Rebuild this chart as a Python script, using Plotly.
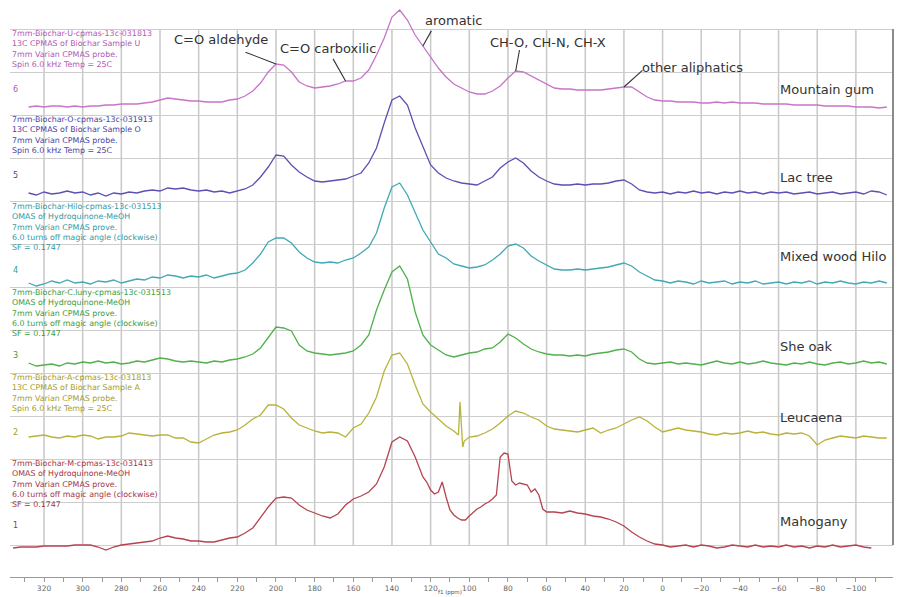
import plotly.graph_objects as go

# chemical shift (ppm) sampled every 4 ppm for the upper spectra
ppm = [328, 324, 320, 316, 312, 308, 304, 300, 296, 292, 288, 284, 280, 276, 272, 268,
       264, 260, 256, 252, 248, 244, 240, 236, 232, 228, 224, 220, 216, 212, 208, 204,
       200, 196, 192, 188, 184, 180, 176, 172, 168, 164, 160, 156, 152, 148, 144, 140,
       136, 132, 128, 124, 120, 116, 112, 108, 104, 100, 96, 92, 88, 84, 80, 76,
       72, 68, 64, 60, 56, 52, 48, 44, 40, 36, 32, 28, 24, 20, 16, 12,
       8, 4, 0, -4, -8, -12, -16, -20, -24, -28, -32, -36, -40, -44, -48, -52,
       -56, -60, -64, -68, -72, -76, -80, -84, -88, -92, -96, -100, -104, -108, -112, -116]

# intensities (a.u., relative to each spectrum's own baseline)
mountain_gum = [0, 1, 0, 1, 1, 0, 1, 0, 1, 1, 2, 2, 3, 3, 3, 4,
                5, 7, 9, 8, 7, 6, 6, 5, 5, 5, 7, 8, 11, 16, 24, 35,
                43, 42, 35, 25, 21, 19, 20, 21, 23, 26, 26, 29, 37, 52, 69, 90,
                97, 87, 72, 61, 49, 39, 30, 23, 19, 15, 13, 13, 16, 21, 29, 36,
                35, 31, 27, 23, 19, 18, 18, 17, 17, 17, 17, 18, 19, 20, 20, 15,
                10, 7, 6, 6, 5, 5, 5, 4, 4, 5, 4, 5, 4, 4, 4, 3,
                3, 3, 3, 2, 2, 2, 2, 1, 1, 1, 1, 0, 0, 0, -1, 0]

lac_tree = [0, -2, 1, -1, 0, 2, 0, 1, -2, 0, -3, 0, -1, 1, 0, 2,
            3, 2, 5, 4, 5, 3, 2, 3, 1, 2, 0, 2, 4, 8, 16, 26,
            38, 37, 28, 21, 16, 12, 11, 12, 13, 14, 17, 20, 30, 45, 70, 93,
            97, 88, 65, 46, 28, 20, 15, 12, 10, 9, 8, 12, 16, 25, 31, 35,
            30, 22, 16, 12, 9, 8, 8, 9, 8, 9, 9, 10, 12, 13, 9, 3,
            1, 0, 1, -1, 1, 0, 2, 0, 1, -1, 1, 0, 2, 0, 1, -1,
            1, 0, 1, -1, 0, 1, -1, 0, 1, -1, 0, 1, -1, 2, 1, -2]

mixed_wood_hilo = [0, -3, -1, 2, 0, 3, 0, 1, -1, 2, 1, 3, 0, 2, 4, 3,
                   6, 5, 8, 7, 5, 7, 6, 8, 5, 7, 9, 10, 13, 20, 29, 41,
                   45, 45, 40, 31, 25, 21, 20, 21, 20, 23, 25, 30, 36, 50, 75, 96,
                   100, 88, 71, 53, 41, 29, 25, 19, 17, 15, 16, 18, 23, 29, 37, 39,
                   35, 27, 22, 18, 14, 13, 13, 14, 13, 14, 15, 16, 18, 20, 17, 11,
                   7, 3, 2, 0, 2, 1, -1, 2, 0, 1, 2, -1, 1, 0, 2, -1,
                   0, 1, -1, 1, 0, 2, -1, 1, 0, 2, 0, -1, 1, 0, 2, 0]

she_oak = [1, -2, -1, 0, -2, 1, 0, 2, 1, 3, 1, 2, 0, 1, 3, 2,
           4, 6, 5, 3, 2, 3, 2, 1, 3, 2, 4, 5, 7, 10, 16, 26,
           37, 36, 33, 19, 13, 11, 10, 9, 10, 11, 13, 19, 29, 54, 74, 92,
           98, 85, 52, 29, 19, 14, 9, 7, 9, 11, 12, 15, 16, 22, 30, 26,
           20, 15, 12, 10, 9, 9, 8, 9, 8, 10, 11, 12, 14, 15, 12, 5,
           1, 0, 1, 2, 0, 1, 0, -1, 1, 3, 1, 0, 2, 0, 1, 3,
           1, 0, -1, 1, 0, 2, 0, -1, 1, 2, 0, 1, 3, 1, 2, 0]

leucaena_ppm = [328, 324, 320, 316, 312, 308, 304, 300, 296, 292, 288, 284, 280, 276, 272, 268,
                264, 260, 256, 252, 248, 244, 240, 236, 232, 228, 224, 220, 216, 212, 208, 204,
                200, 196, 192, 188, 184, 180, 176, 172, 168, 164, 160, 156, 152, 148, 144, 140,
                136, 132, 128, 124, 120, 116, 112, 108, 105.6, 104.8, 104.2, 103.4, 102.6, 100,
                96, 92, 88, 84, 80, 76,
                72, 68, 64, 60, 56, 52, 48, 44, 40, 36, 32, 28, 24, 20, 16, 12,
                8, 4, 0, -4, -8, -12, -16, -20, -24, -28, -32, -36, -40, -44, -48, -52,
                -56, -60, -64, -68, -72, -76, -80, -84, -88, -92, -96, -100, -104, -108, -112, -116]

leucaena = [0, 1, 2, 0, -1, 1, 0, 2, 1, -2, 0, 0, 1, 4, 3, 2,
            1, 2, 2, -1, -1, -5, -6, -2, 2, 4, 5, 7, 12, 18, 22, 32,
            32, 28, 19, 12, 9, 6, 4, 5, 4, 0, 9, 13, 24, 40, 66, 82,
            84, 73, 52, 33, 25, 18, 11, 6, 2, 35, 12, -10, -4, 0,
            1, 4, 8, 14, 21, 26,
            24, 20, 17, 11, 8, 7, 6, 5, 7, 9, 4, 7, 9, 13, 17, 20,
            16, 10, 5, 7, 9, 7, 6, 5, 3, 2, 4, 3, 4, 6, 4, 5,
            3, 2, 4, 3, 4, 1, -8, -3, -1, 1, 0, -1, 1, 0, -1, -1]

mahogany_ppm = [336, 332, 328, 324, 320, 316, 312, 308, 304, 300, 296, 292, 288, 284, 280, 276,
                272, 268, 264, 260, 256, 252, 248, 244, 240, 236, 232, 228, 224, 220, 216, 212,
                208, 204, 200, 196, 192, 188, 184, 180, 176, 172, 168, 164, 160, 156, 152, 148,
                144, 140, 136, 132, 128, 124,
                122, 120, 118, 116, 114, 112, 110, 108, 106, 104, 102, 100, 98, 96, 94, 92,
                90, 88, 86, 84, 82, 80, 78, 76, 74, 72, 70, 68, 66, 64, 62, 60,
                58,
                56, 52, 48, 44, 40, 36, 32, 28, 24, 20, 16, 12, 8, 4, 0, -4,
                -8, -12, -16, -20, -24, -28, -32, -36, -40, -44, -48, -52, -56, -60, -64, -68,
                -72, -76, -80, -84, -88, -92, -96, -100, -104, -108]

mahogany = [-1, 0, 0, 0, 1, 1, 1, 1, 2, 2, 2, 0, -3, 0, 2, 3,
            4, 5, 6, 9, 11, 9, 8, 6, 6, 5, 5, 7, 9, 10, 14, 19,
            30, 40, 49, 50, 49, 42, 37, 34, 31, 29, 33, 42, 48, 51, 55, 63,
            80, 105, 110, 106, 90, 70,
            65, 57, 53, 55, 65, 50, 37, 32, 29, 27, 27, 31, 35, 38, 40, 43,
            45, 48, 52, 90, 94, 93, 66, 62, 64, 63, 62, 55, 58, 52, 38, 35,
            35,
            35, 34, 36, 34, 33, 31, 30, 28, 25, 21, 15, 10, 6, 3, 2, 0,
            1, 2, 0, 2, 1, -1, 0, 2, 1, 0, 2, 0, 1, 0, 2, 0,
            1, -1, 1, 0, 2, 0, 1, 2, 0, -1]

sample_names = ["Mahogany", "Leucaena", "She oak", "Mixed wood Hilo", "Lac tree", "Mountain gum"]
spectrum_numbers = ["1", "2", "3", "4", "5", "6"]
offsets = [-2, 108, 181, 262, 352, 438]

headers = [
    ["7mm-Biochar-M-cpmas-13c-031413", "OMAS of Hydroquinone-MeOH", "7mm Varian CPMAS prove.",
     "6.0 turns off magic angle (clockwise)", "SF = 0.1747"],
    ["7mm-Biochar-A-cpmas-13c-031813", "13C CPMAS of Biochar Sample A", "7mm Varian CPMAS probe.",
     "Spin 6.0 kHz Temp = 25C"],
    ["7mm-Biochar-C.luny-cpmas-13c-031513", "OMAS of Hydroquinone-MeOH", "7mm Varian CPMAS prove.",
     "6.0 turns off magic angle (clockwise)", "SF = 0.1747"],
    ["7mm-Biochar-Hilo-cpmas-13c-031513", "OMAS of Hydroquinone-MeOH", "7mm Varian CPMAS prove.",
     "6.0 turns off magic angle (clockwise)", "SF = 0.1747"],
    ["7mm-Biochar-O-cpmas-13c-031913", "13C CPMAS of Biochar Sample O", "7mm Varian CPMAS probe.",
     "Spin 6.0 kHz Temp = 25C"],
    ["7mm-Biochar-U-cpmas-13c-031813", "13C CPMAS of Biochar Sample U", "7mm Varian CPMAS probe.",
     "Spin 6.0 kHz Temp = 25C"],
]

# peak assignments marked on the top spectrum (label, ppm of the peak)
peak_labels = ["C=O aldehyde", "C=O carboxilic", "aromatic", "CH-O, CH-N, CH-X", "other aliphatics"]
peak_ppm = [200, 164, 124, 76, 20]

spectra = [
    (mahogany_ppm, mahogany),
    (leucaena_ppm, leucaena),
    (ppm, she_oak),
    (ppm, mixed_wood_hilo),
    (ppm, lac_tree),
    (ppm, mountain_gum),
]
line_colors = ["#b5444f", "#b9b23a", "#4fb04c", "#41a9b4", "#5b50b3", "#c774c9"]
text_colors = ["#a8343f", "#a59d2a", "#3c9c3a", "#329aa6", "#4b42a3", "#b258b5"]

fig = go.Figure()

for i, (x, vals) in enumerate(spectra):
    fig.add_trace(go.Scatter(
        x=x,
        y=[v + offsets[i] for v in vals],
        mode="lines",
        name=sample_names[i],
        line=dict(color=line_colors[i], width=1.3),
        hoverinfo="x+name",
    ))

grid = "#cdcdcd"

# vertical grid only over the stacked area
for v in range(320, -101, -20):
    fig.add_shape(type="line", xref="x", yref="y", x0=v, x1=v, y0=0, y1=516,
                  line=dict(color="#c8c8c8", width=1.5), layer="below")

# dark bar on the right edge
fig.add_shape(type="line", xref="paper", yref="y", x0=1, x1=1, y0=0, y1=516,
              line=dict(color="#8a8a8a", width=2))

annotations = []

# sample names on the right
name_y = [24, 128, 199, 289, 368, 456]
for i, name in enumerate(sample_names):
    annotations.append(dict(x=-59.7, y=name_y[i], xref="x", yref="y", text=name,
                            showarrow=False, xanchor="left", yanchor="middle",
                            font=dict(size=13, color="#333333")))

# spectrum numbers on the left
number_y = [20, 113, 190, 275, 370, 456]
for i, num in enumerate(spectrum_numbers):
    annotations.append(dict(x=335, y=number_y[i], xref="x", yref="y", text=num,
                            showarrow=False, xanchor="center", yanchor="middle",
                            font=dict(size=8, color=text_colors[i])))

# acquisition headers (one text block each)
header_top = [87, 173, 258, 344, 431, 517]
for i, lines in enumerate(headers):
    annotations.append(dict(x=0.001, y=header_top[i], xref="paper", yref="y",
                            text="<br>".join(lines), showarrow=False, align="left",
                            xanchor="left", yanchor="top", borderpad=0,
                            font=dict(size=7.9, color=text_colors[i])))

# peak assignment labels and leader lines
label_pos = [(228.4, 506), (173.1, 497), (108.4, 525), (59.3, 503), (-15.7, 478)]
leader_tail = [(-31, -12), (-13, -23), (9, -16), (4, -22), (19, -17)]
for lab, p, (lx, ly), (ax, ay) in zip(peak_labels, peak_ppm, label_pos, leader_tail):
    annotations.append(dict(x=lx, y=ly, xref="x", yref="y", text=lab, showarrow=False,
                            xanchor="center", yanchor="middle",
                            font=dict(size=13, color="#333333")))
    head_y = offsets[5] + mountain_gum[ppm.index(p)]
    annotations.append(dict(x=p, y=head_y, xref="x", yref="y", text=" ", showarrow=True,
                            arrowhead=0, arrowwidth=1.1, arrowcolor="#333333",
                            ax=ax, ay=ay, standoff=0, startstandoff=0,
                            font=dict(size=1), borderpad=0))

# axis title, sitting at the very bottom edge between two tick labels
annotations.append(dict(x=0.4985, y=-0.0347, xref="paper", yref="paper", text="f1 (ppm)",
                        showarrow=False, xanchor="center", yanchor="bottom", borderpad=0,
                        font=dict(size=5.5, color="#555555")))

fig.update_layout(
    width=899,
    height=597,
    margin=dict(l=10, r=6, t=0, b=20),
    plot_bgcolor="white",
    paper_bgcolor="white",
    showlegend=False,
    font=dict(family="DejaVu Sans", color="#333333"),
    annotations=annotations,
    xaxis=dict(
        range=[337.6, -119.2],
        tick0=0, dtick=20,
        showgrid=False, zeroline=False,
        showline=True, linecolor="#9a9a9a", linewidth=1,
        ticks="outside", ticklen=4, tickcolor="#9a9a9a",
        minor=dict(ticks="outside", dtick=10, ticklen=4, tickcolor="#9a9a9a"),
        tickfont=dict(size=7.5, color="#666666"),
    ),
    yaxis=dict(
        range=[-32, 545],
        tick0=0, dtick=43,
        showgrid=True, gridcolor=grid, gridwidth=1.3,
        zeroline=False, showticklabels=False, ticks="",
    ),
    yaxis2=dict(
        range=[-32, 545], overlaying="y", side="right",
        tickvals=[43, 129, 215, 301, 387, 473],
        ticks="outside", ticklen=4, tickcolor="#8a8a8a",
        showticklabels=False, showgrid=False, zeroline=False,
    ),
)

fig.write_html("out.html", config={"displayModeBar": False},
               post_script="document.body.style.margin='0';")
